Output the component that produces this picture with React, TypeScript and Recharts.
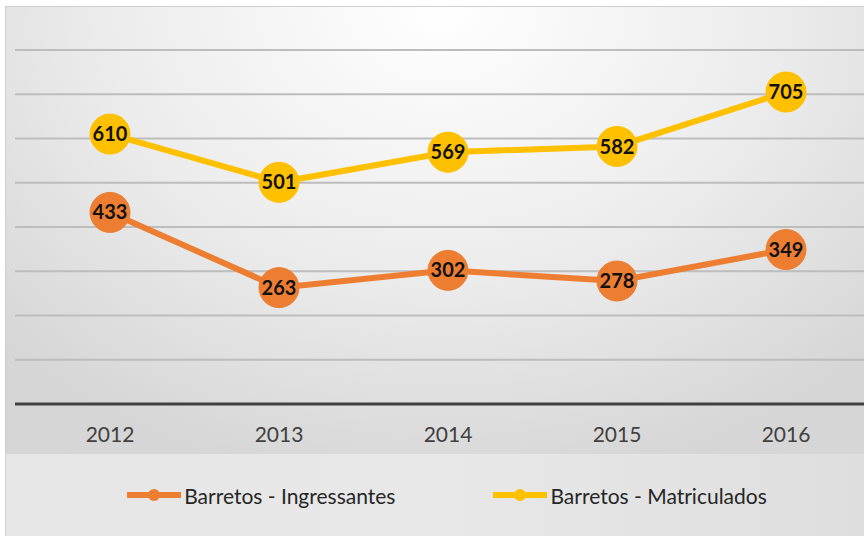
import { LineChart, Line, XAxis, YAxis, CartesianGrid, Legend, LabelList } from 'recharts';

const years = ['2012', '2013', '2014', '2015', '2016'];
const ingressantes = [433, 263, 302, 278, 349];
const matriculados = [610, 501, 569, 582, 705];
const yTicks = [0, 100, 200, 300, 400, 500, 600, 700, 800];

const ORANGE = '#ED7D31';
const YELLOW = '#FFC000';

const data = years.map((year, i) => ({
  year,
  ingressantes: ingressantes[i],
  matriculados: matriculados[i],
}));

const series = [
  { key: 'ingressantes', name: 'Barretos - Ingressantes', color: ORANGE },
  { key: 'matriculados', name: 'Barretos - Matriculados', color: YELLOW },
];

function LegendContent() {
  return (
    <div
      style={{
        height: 82,
        display: 'flex',
        alignItems: 'center',
        justifyContent: 'center',
        gap: 98,
        paddingLeft: 15,
      }}
    >
      {series.map((s) => (
        <div key={s.key} style={{ display: 'flex', alignItems: 'center' }}>
          <svg width={54} height={14}>
            <line x1={0} y1={7} x2={54} y2={7} stroke={s.color} strokeWidth={6} strokeLinecap="round" />
            <circle cx={27} cy={7} r={6} fill={s.color} />
          </svg>
          <span style={{ fontSize: 21, color: '#262626', marginLeft: 3 }}>{s.name}</span>
        </div>
      ))}
    </div>
  );
}

export default function App() {
  return (
    <div
      style={{
        position: 'absolute',
        left: 0,
        top: 0,
        width: 864,
        height: 536,
        overflow: 'hidden',
        background: '#fff',
        fontFamily: 'Lato, "Noto Sans", sans-serif',
      }}
    >
      <div
        style={{
          position: 'absolute',
          left: 5,
          top: 6,
          width: 870,
          height: 540,
          border: '1px solid #cfcfcf',
          background: 'radial-gradient(ellipse 70% 90% at 50% 0%, #ffffff 0%, #ececec 55%, #d6d6d6 100%)',
        }}
      />
      <div
        style={{
          position: 'absolute',
          left: 6,
          top: 454,
          width: 870,
          height: 90,
          background: 'linear-gradient(90deg, #e6e6e6 0%, #e8e8e8 50%, #dedede 100%)',
        }}
      />
      <div style={{ position: 'absolute', left: 0, top: 0 }}>
        <LineChart width={864} height={536} data={data} margin={{ top: 50, right: 0, left: 15, bottom: 0 }}>
          <CartesianGrid vertical={false} stroke="#bdbdbd" strokeWidth={2} />
          <YAxis hide domain={[0, 800]} ticks={yTicks} />
          <XAxis
            dataKey="year"
            height={50}
            padding={{ left: 95, right: 78 }}
            axisLine={{ stroke: '#404040', strokeWidth: 3 }}
            tickLine={false}
            tickMargin={17}
            tick={{ fill: '#404040', fontSize: 21 }}
          />
          <Legend verticalAlign="bottom" height={82} content={<LegendContent />} />
          {series.map((s) => (
            <Line
              key={s.key}
              dataKey={s.key}
              name={s.name}
              stroke={s.color}
              strokeWidth={6}
              dot={{ r: 20, fill: s.color, stroke: s.color, strokeWidth: 1 }}
              activeDot={false}
              isAnimationActive={false}
            >
              <LabelList
                dataKey={s.key}
                position="center"
                style={{ fontSize: 20, fontWeight: 700, fill: '#111' }}
              />
            </Line>
          ))}
        </LineChart>
      </div>
    </div>
  );
}
